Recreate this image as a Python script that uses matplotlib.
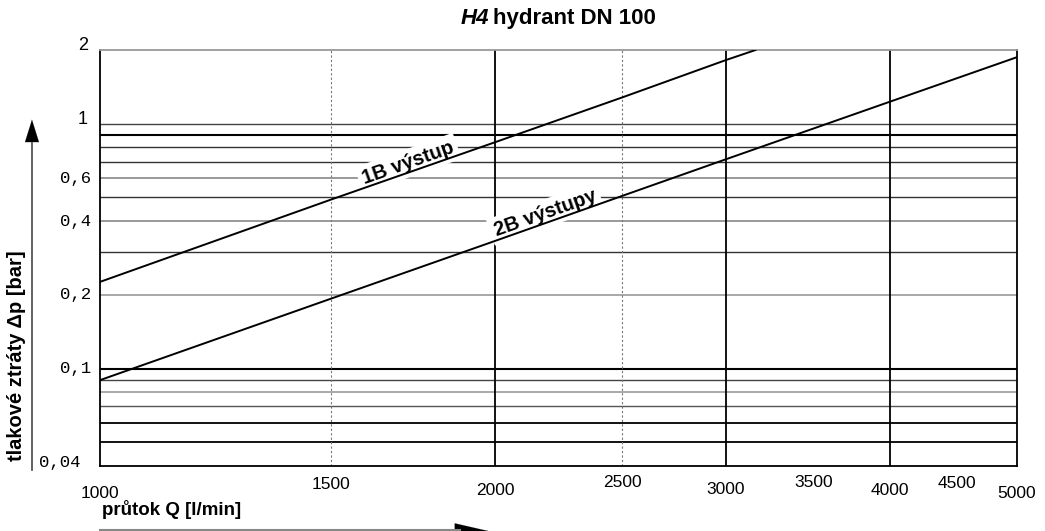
import numpy as np
import matplotlib.pyplot as plt
from matplotlib.transforms import blended_transform_factory

plt.rcParams['font.family'] = ['Liberation Sans', 'DejaVu Sans']

# flow [l/min] and pressure loss [bar]
q_1b = [1000, 1500, 2000, 2500, 3000, 3160]
dp_1b = [0.226, 0.49, 0.84, 1.28, 1.82, 2.0]
q_2b = [1000, 1500, 2000, 2500, 3000, 4000, 5000]
dp_2b = [0.0897, 0.193, 0.332, 0.507, 0.716, 1.23, 1.87]

x_ticks = [1000, 1500, 2000, 2500, 3000, 3500, 4000, 4500, 5000]
x_tick_text = ['1000', '1500', '2000', '2500', '3000', '3500', '4000', '4500', '5000']
y_ticks = [2, 1, 0.6, 0.4, 0.2, 0.1, 0.04]
y_tick_text = ['2', '1', '0,6', '0,4', '0,2', '0,1', '0,04']

h_grid = [1.0, 0.9, 0.8, 0.7, 0.6, 0.5, 0.4, 0.3, 0.2, 0.1,
          0.09, 0.08, 0.07, 0.06, 0.05]
h_color = ['#444', '#000', '#333', '#333', '#888', '#333', '#888', '#333',
           '#999', '#000', '#444', '#999', '#555', '#111', '#111']
h_width = [1.0, 1.5, 1.0, 1.0, 1.2, 1.0, 1.2, 1.0, 1.2, 1.5,
           1.0, 1.2, 1.0, 1.4, 1.4]

fig = plt.figure(figsize=(10.45, 5.31), dpi=100)
ax = fig.add_axes([0.0957, 0.1224, 0.8775, 0.7834])
ax.set_xscale('log')
ax.set_yscale('log')
ax.set_xlim(1000, 5000)
ax.set_ylim(0.04, 2)

for v, c, w in zip(h_grid, h_color, h_width):
    ax.axhline(v, color=c, lw=w, zorder=1)
for q in [2000, 3000, 4000]:
    ax.axvline(q, color='black', lw=1.3, zorder=1)
for q in [1500, 2500]:
    ax.axvline(q, color='#777', lw=0.8, ls=(0, (2, 2)), zorder=1)

ax.plot(q_1b, dp_1b, color='black', lw=1.4, zorder=4)
ax.plot(q_2b, dp_2b, color='black', lw=1.4, zorder=4)


def line_angle(qs, dps):
    p = ax.transData.transform([(qs[0], dps[0]), (qs[-1], dps[-1])])
    return np.degrees(np.arctan2(p[1, 1] - p[0, 1], p[1, 0] - p[0, 0]))


fig.canvas.draw()
ax.text(1717, 0.69, '1B výstup', rotation=line_angle(q_1b, dp_1b),
        rotation_mode='anchor', ha='center', va='center', fontsize=14.5,
        fontweight='bold', zorder=3,
        bbox=dict(fc='white', ec='none', pad=3))
ax.text(2184, 0.43, '2B výstupy', rotation=line_angle(q_2b, dp_2b),
        rotation_mode='anchor', ha='center', va='center', fontsize=14.5,
        fontweight='bold', zorder=3,
        bbox=dict(fc='white', ec='none', pad=3))

# frame
for s in ['left', 'bottom', 'right']:
    ax.spines[s].set_color('black')
    ax.spines[s].set_linewidth(1.3)
ax.spines['top'].set_color('#999')
ax.spines['top'].set_linewidth(1.3)
ax.set_xticks([])
ax.set_yticks([])
ax.minorticks_off()

# staggered flow labels
tx = blended_transform_factory(ax.transData, ax.transAxes)
x_off = [-0.065, -0.045, -0.058, -0.04, -0.056, -0.04, -0.06, -0.043, -0.066]
for q, t, o in zip(x_ticks, x_tick_text, x_off):
    ax.text(q, o, t, transform=tx, ha='center', va='center', fontsize=12.5)

ty = blended_transform_factory(ax.transAxes, ax.transData)
for v, t in zip(y_ticks, y_tick_text):
    if v >= 1:
        ax.text(-0.013, v * 1.04, t, transform=ty, ha='right', va='center',
                fontsize=13)
    elif v > 0.05:
        ax.text(-0.01, v, t, transform=ty, ha='right', va='center',
                fontsize=12.5, family='Liberation Mono')
    else:
        ax.text(-0.021, v * 1.03, t, transform=ty, ha='right', va='center',
                fontsize=12.5, family='Liberation Mono')

# axis titles with arrows
fig.text(0.0975, 0.04, 'průtok Q [l/min]', fontsize=13.5, fontweight='bold',
         ha='left', va='center')
fig.add_artist(plt.Line2D([0.0957, 0.44], [0.002, 0.002], color='#888',
                          lw=1.5, transform=fig.transFigure))
ax.annotate('', xy=(0.47, 0.0), xytext=(0.43, 0.0),
            xycoords='figure fraction', textcoords='figure fraction',
            arrowprops=dict(arrowstyle='-|>,head_length=2.4,head_width=0.55',
                            color='black', lw=0.1))

fig.text(0.016, 0.33, 'tlakové ztráty Δp [bar]', fontsize=14.5,
         fontweight='bold', rotation=90, ha='center', va='center')
fig.add_artist(plt.Line2D([0.0306, 0.0306], [0.115, 0.73], color='#555',
                          lw=1.3, transform=fig.transFigure))
ax.annotate('', xy=(0.0306, 0.78), xytext=(0.0306, 0.72),
            xycoords='figure fraction', textcoords='figure fraction',
            arrowprops=dict(arrowstyle='-|>,head_length=1.6,head_width=0.5',
                            color='black', lw=0.1))

# title: italic type designation followed by upright text
fig.text(0.468, 0.966, 'H4', fontsize=16, fontweight='bold',
         style='italic', ha='right', va='center')
fig.text(0.4715, 0.966, 'hydrant DN 100', fontsize=16, fontweight='bold',
         ha='left', va='center')

fig.savefig('out.png', dpi=100)
